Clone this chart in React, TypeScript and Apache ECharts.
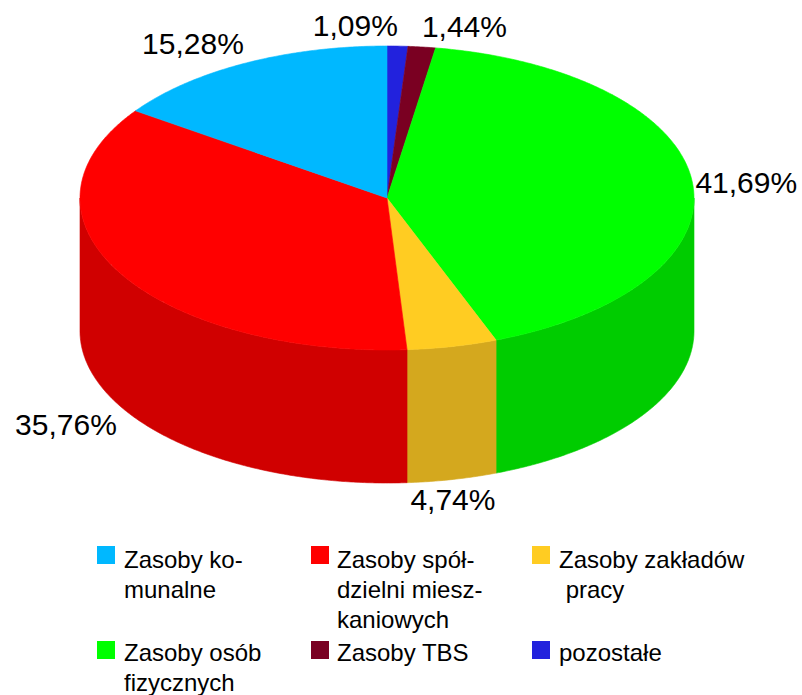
import React, { useEffect, useRef } from 'react';
import * as echarts from 'echarts';

// ---- data ----
const categories = [
  'Zasoby komunalne',
  'Zasoby spółdzielni mieszkaniowych',
  'Zasoby zakładów pracy',
  'Zasoby osób fizycznych',
  'Zasoby TBS',
  'pozostałe',
];
const legendLabels = [
  'Zasoby ko-\nmunalne',
  'Zasoby spół-\ndzielni miesz-\nkaniowych',
  'Zasoby zakładów\n\u00a0pracy',
  'Zasoby osób\nfizycznych',
  'Zasoby TBS',
  'pozostałe',
];
const shares = [15.28, 35.76, 4.74, 41.69, 1.44, 1.09];
const topColors = ['#00B8FF', '#FF0000', '#FFCC22', '#00FF00', '#7A0022', '#2222DD'];
const sideColors = ['#0093CC', '#D00000', '#D4A81E', '#00CC00', '#620019', '#1B1BB1'];
// clockwise from 12 o'clock
const drawOrder = [5, 4, 3, 2, 1, 0];

// ---- layout constants ----
const FONT = '"Liberation Sans", Arial, sans-serif';
const PIE = { cx: 387, cy: 198, rx: 307, ry: 152, depth: 133 };
const LABEL_SIZE = 30;
const LABEL_GAP = 3;
const LABEL_MIN_SPACE = 24;
const LEG = {
  sqX: [97, 311, 532],
  txX: [124, 337, 559],
  sqY: [546, 641],
  txY: [544, 637],
  sq: 18,
  fontSize: 24,
  lineHeight: 30,
};

const fmt = (v: number) => v.toFixed(2).replace('.', ',') + '%';

function pt(a: number, dy = 0): number[] {
  return [PIE.cx + PIE.rx * Math.sin(a), PIE.cy - PIE.ry * Math.cos(a) + dy];
}
function arc(a0: number, a1: number, dy = 0): number[][] {
  const n = Math.max(2, Math.ceil(Math.abs(a1 - a0) / (Math.PI / 360)));
  const out: number[][] = [];
  for (let i = 0; i <= n; i++) out.push(pt(a0 + ((a1 - a0) * i) / n, dy));
  return out;
}

function buildLayout() {
  const total = shares.reduce((s, v) => s + v, 0);
  let acc = 0;
  const canvas = document.createElement('canvas');
  const ctx = canvas.getContext('2d') as CanvasRenderingContext2D;
  ctx.font = `${LABEL_SIZE}px ${FONT}`;
  const slices = drawOrder.map((idx) => {
    const a0 = (acc / total) * Math.PI * 2;
    acc += shares[idx];
    const a1 = (acc / total) * Math.PI * 2;
    const mid = (a0 + a1) / 2;
    const s = Math.sin(mid);
    const c = -Math.cos(mid);
    const p = pt(mid, c > 0 ? PIE.depth : 0);
    const text = fmt(shares[idx]);
    const w = ctx.measureText(text).width;
    const h = LABEL_SIZE * 1.15;
    const align = s > 0.3 ? 'left' : s < -0.3 ? 'right' : 'center';
    const valign = c > 0.3 ? 'top' : c < -0.3 ? 'bottom' : 'middle';
    const x = p[0] + LABEL_GAP * s;
    const y = p[1] + LABEL_GAP * c;
    const cxl = align === 'left' ? x + w / 2 : align === 'right' ? x - w / 2 : x;
    const cyl = valign === 'top' ? y + h / 2 : valign === 'bottom' ? y - h / 2 : y;
    return { idx, a0, a1, text, w, h, align, valign, cxl, cyl };
  });
  // resolve label collisions horizontally
  for (let iter = 0; iter < 5; iter++) {
    for (let i = 0; i < slices.length; i++) {
      for (let j = i + 1; j < slices.length; j++) {
        const A = slices[i];
        const B = slices[j];
        if (Math.abs(A.cyl - B.cyl) >= (A.h + B.h) / 2) continue;
        const need = (A.w + B.w) / 2 + LABEL_MIN_SPACE;
        const d = Math.abs(A.cxl - B.cxl);
        if (d >= need) continue;
        const m = (A.cxl + B.cxl) / 2;
        const left = A.cxl <= B.cxl ? A : B;
        const right = left === A ? B : A;
        left.cxl = m - need / 2;
        right.cxl = m + need / 2;
      }
    }
  }
  return slices;
}

export default function App() {
  const ref = useRef<HTMLDivElement>(null);
  useEffect(() => {
    if (!ref.current) return;
    const chart = echarts.init(ref.current, null, { renderer: 'svg' });
    const slices = buildLayout();

    const renderItem = (params: any) => {
      const sl = slices[params.dataIndex];
      const i = sl.idx;
      const children: any[] = [];
      const lo = Math.max(sl.a0, Math.PI / 2);
      const hi = Math.min(sl.a1, (Math.PI * 3) / 2);
      if (hi > lo) {
        const pts = arc(lo, hi).concat(arc(hi, lo, PIE.depth));
        children.push({
          type: 'polygon',
          shape: { points: pts },
          style: { fill: sideColors[i], stroke: sideColors[i], lineWidth: 0.6 },
        });
      }
      const topPts = [[PIE.cx, PIE.cy]].concat(arc(sl.a0, sl.a1));
      children.push({
        type: 'polygon',
        shape: { points: topPts },
        style: { fill: topColors[i], stroke: topColors[i], lineWidth: 0.6 },
      });
      children.push({
        type: 'text',
        x: sl.cxl,
        y: sl.cyl,
        style: {
          text: sl.text,
          fill: '#000',
          fontSize: LABEL_SIZE,
          fontFamily: FONT,
          align: 'center',
          verticalAlign: 'middle',
        },
      });
      return { type: 'group', children };
    };

    const legendGraphics: any[] = [];
    categories.forEach((_, i) => {
      const col = i % 3;
      const row = Math.floor(i / 3);
      legendGraphics.push({
        type: 'rect',
        shape: { x: LEG.sqX[col], y: LEG.sqY[row], width: LEG.sq, height: LEG.sq },
        style: { fill: topColors[i] },
      });
      legendGraphics.push({
        type: 'text',
        x: LEG.txX[col],
        y: LEG.txY[row],
        style: {
          text: legendLabels[i],
          fill: '#000',
          fontSize: LEG.fontSize,
          lineHeight: LEG.lineHeight,
          fontFamily: FONT,
          align: 'left',
          verticalAlign: 'top',
        },
      });
    });

    chart.setOption({
      animation: false,
      backgroundColor: '#fff',
      series: [
        {
          type: 'custom',
          coordinateSystem: 'none',
          renderItem,
          data: drawOrder.map((idx) => ({ name: categories[idx], value: shares[idx] })),
        },
      ],
      graphic: { elements: legendGraphics },
    });
    return () => chart.dispose();
  }, []);
  return (
    <div
      ref={ref}
      style={{ position: 'absolute', left: 0, top: 0, width: 802, height: 695 }}
    />
  );
}
